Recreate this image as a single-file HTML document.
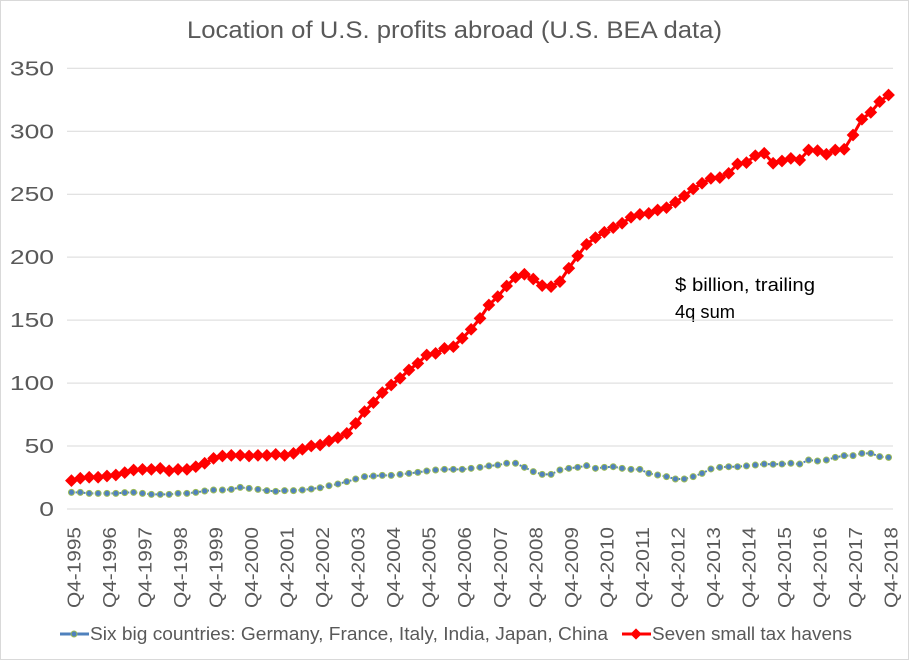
<!DOCTYPE html>
<html><head><meta charset="utf-8"><style>
body{margin:0;background:#fff;}
svg{display:block;font-family:"Liberation Sans",sans-serif;}
</style></head><body>
<svg id="chart" width="909" height="660">
<rect x="0.5" y="0.5" width="908" height="659" fill="#fff" stroke="#d9d9d9"/>
<text x="187" y="38" font-size="24" fill="#595959" textLength="535" lengthAdjust="spacingAndGlyphs">Location of U.S. profits abroad (U.S. BEA data)</text>
<text x="675" y="291" font-size="18" fill="#000" textLength="140" lengthAdjust="spacingAndGlyphs">$ billion, trailing</text>
<text x="675" y="318" font-size="18" fill="#000" textLength="60" lengthAdjust="spacingAndGlyphs">4q sum</text>
<g id="grid"></g><g id="xlabels"></g><g id="series"></g>
<g>
<line x1="60" y1="634" x2="89" y2="634" stroke="#4f81bd" stroke-width="3"/>
<circle cx="74" cy="634" r="3" fill="#4f81bd" stroke="#9bbb59" stroke-width="1"/>
<text x="90" y="640" font-size="18" fill="#595959" textLength="518" lengthAdjust="spacingAndGlyphs">Six big countries: Germany, France, Italy, India, Japan, China</text>
<line x1="622" y1="634" x2="651" y2="634" stroke="#ff0000" stroke-width="3"/>
<rect x="632" y="630" width="8" height="8" fill="#ff0000" transform="rotate(45 636 634)"/>
<text x="652" y="640" font-size="18" fill="#595959" textLength="200" lengthAdjust="spacingAndGlyphs">Seven small tax havens</text>
</g>
</svg>
<script>
const yTicks=[0,50,100,150,200,250,300,350];
const havens=[22.5,24.4,25.2,25.2,26.2,27,28.9,31,31.5,31.5,32.3,30.4,31.5,31.5,33.6,36.3,40.2,42.1,42.6,42.6,42.1,42.6,42.6,43.4,42.6,44.2,47.4,50,50.8,54,56.7,60.1,68,77.3,84.5,92.4,98.5,103.8,110.4,115.7,122.3,123.6,127.6,128.9,135.6,142.7,151.4,162,168.7,177.1,184,186.4,182.7,177.4,176.6,180.6,191.2,201,210.2,215.5,219.8,223.5,226.9,231.7,234,234.8,237.5,239.3,243.6,248.6,254.2,258.7,262.6,263.2,266.6,274,275.1,280.6,282.5,274.6,276.4,278.5,277.2,285.1,284.6,281.7,285.1,285.7,297,309.5,315,323.5,328.8];
const bigSix=[13.2,13.2,12.4,12.4,12.4,12.4,13,13.2,12.4,11.6,11.6,11.6,12.4,12.4,13.2,14.3,15.1,15.1,15.6,17.2,16.4,15.6,14.6,14,14.6,14.6,15.1,15.9,16.9,18.5,19.9,21.7,23.8,25.7,26.2,26.7,26.7,27.5,28.3,29.1,30.2,31,31.5,31.5,31.5,32.3,33.1,34.2,34.9,36.3,36.3,33.1,29.7,27.5,27.5,31,32.3,33.1,34.4,32.3,33.1,33.6,32.3,31.5,31.5,28.3,27,25.7,23.8,23.8,25.7,28.3,31.8,33.1,33.6,33.6,34.2,34.9,35.7,35.5,35.7,36.3,35.7,38.9,38.1,38.9,41,42.4,42.4,44.2,44.2,41.6,41];
const categories=[];for(let y=1995;y<=2018;y++){for(let q=(y==1995?4:1);q<=4;q++){categories.push('Q'+q+'-'+y);}}
const NS='http://www.w3.org/2000/svg';
const X0=67,X1=893,Y0=509,YTOP=68.3,YMAX=350;
const n=categories.length;
function xs(i){return X0+(i+0.5)*(X1-X0)/n;}
function ys(v){return Y0-(v/YMAX)*(Y0-YTOP);}
function mk(t,a,p){const e=document.createElementNS(NS,t);for(const k in a)e.setAttribute(k,a[k]);p.appendChild(e);return e;}
const grid=document.getElementById('grid');
yTicks.forEach(t=>{
 const l=mk('line',{x1:X0,x2:X1,y1:ys(t),y2:ys(t),stroke:'#d9d9d9','stroke-width':1},grid);
 
 
 const s=String(t);
 const tx=mk('text',{x:54-s.length*14.7,y:ys(t)+7,'font-size':20,fill:'#595959',textLength:s.length*14.7,lengthAdjust:'spacingAndGlyphs'},grid);
 tx.textContent=s;
 
 
});
const xl=document.getElementById('xlabels');
categories.forEach((c,i)=>{
 if(c.indexOf('Q4')!==0)return;
 const x=xs(i)+9;
 const t=mk('text',{x:x,y:608,'font-size':18,fill:'#595959',textLength:81,lengthAdjust:'spacingAndGlyphs',transform:'rotate(-90 '+x+' 608)'},xl);
 t.textContent=c;
 
 
});
const sg=document.getElementById('series');
const bp=mk('polyline',{points:bigSix.map((v,i)=>xs(i)+','+ys(v)).join(' '),fill:'none',stroke:'#4f81bd','stroke-width':2,'stroke-dasharray':'2,2'},sg);


bigSix.forEach((v,i)=>{
 const c=mk('circle',{cx:xs(i),cy:ys(v),r:3,fill:'#4f81bd',stroke:'#9bbb59','stroke-width':1},sg);
 
 
});
const rp=mk('polyline',{points:havens.map((v,i)=>xs(i)+','+ys(v)).join(' '),fill:'none',stroke:'#ff0000','stroke-width':3},sg);


havens.forEach((v,i)=>{
 const x=xs(i),y=ys(v);
 const r=mk('rect',{x:x-4.5,y:y-4.5,width:9,height:9,fill:'#ff0000',transform:'rotate(45 '+x+' '+y+')'},sg);
 
 
});
</script>
</body></html>
